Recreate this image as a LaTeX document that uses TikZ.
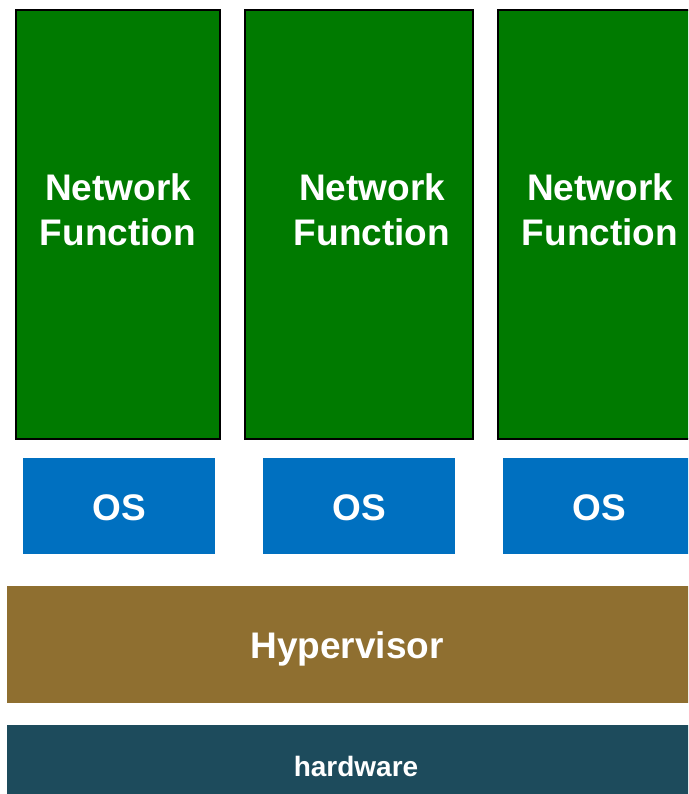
\documentclass[tikz,border=0pt]{standalone}
\usepackage{fontspec}
\setmainfont{Liberation Sans}
\definecolor{nfgreen}{RGB}{0,122,0}
\definecolor{osblue}{RGB}{0,112,192}
\definecolor{hvbrown}{RGB}{143,111,48}
\definecolor{hwteal}{RGB}{29,75,92}
\begin{document}
\begin{tikzpicture}[x=1pt,y=-1pt,
  nfbox/.style={draw=black,line width=2pt,fill=nfgreen},
  bigtext/.style={text=white,font=\bfseries\fontsize{37}{45}\selectfont,align=center,inner sep=0pt},
  smalltext/.style={text=white,font=\bfseries\fontsize{28}{34}\selectfont,inner sep=0pt}]
\useasboundingbox (0,0) rectangle (688,794);
\clip (0,0) rectangle (688,794);
% virtual network functions
\path[nfbox] (16,10) rectangle (220,439);
\path[nfbox] (245,10) rectangle (473,439);
\path[nfbox] (498,10) rectangle (720,439);
\node[bigtext] (nf1t) at (118,210) {Network\\Function};
\node[bigtext] (nf2t) at (372,210) {Network\\Function};
\node[bigtext] (nf3t) at (600,210) {Network\\Function};
% guest operating systems
\fill[osblue] (23,458) rectangle (215,554);
\fill[osblue] (263,458) rectangle (455,554);
\fill[osblue] (503,458) rectangle (695,554);
\node[bigtext] (os1) at (119,508) {OS};
\node[bigtext] (os2) at (359,508) {OS};
\node[bigtext] (os3) at (599,508) {OS};
% hypervisor layer
\fill[hvbrown] (7,586) rectangle (700,703);
\node[bigtext] (hv) at (347,649) {Hypervisor};
% physical hardware
\fill[hwteal] (7,725) rectangle (705,800);
\node[smalltext] (hw) at (356,766) {hardware};
\end{tikzpicture}
\end{document}
